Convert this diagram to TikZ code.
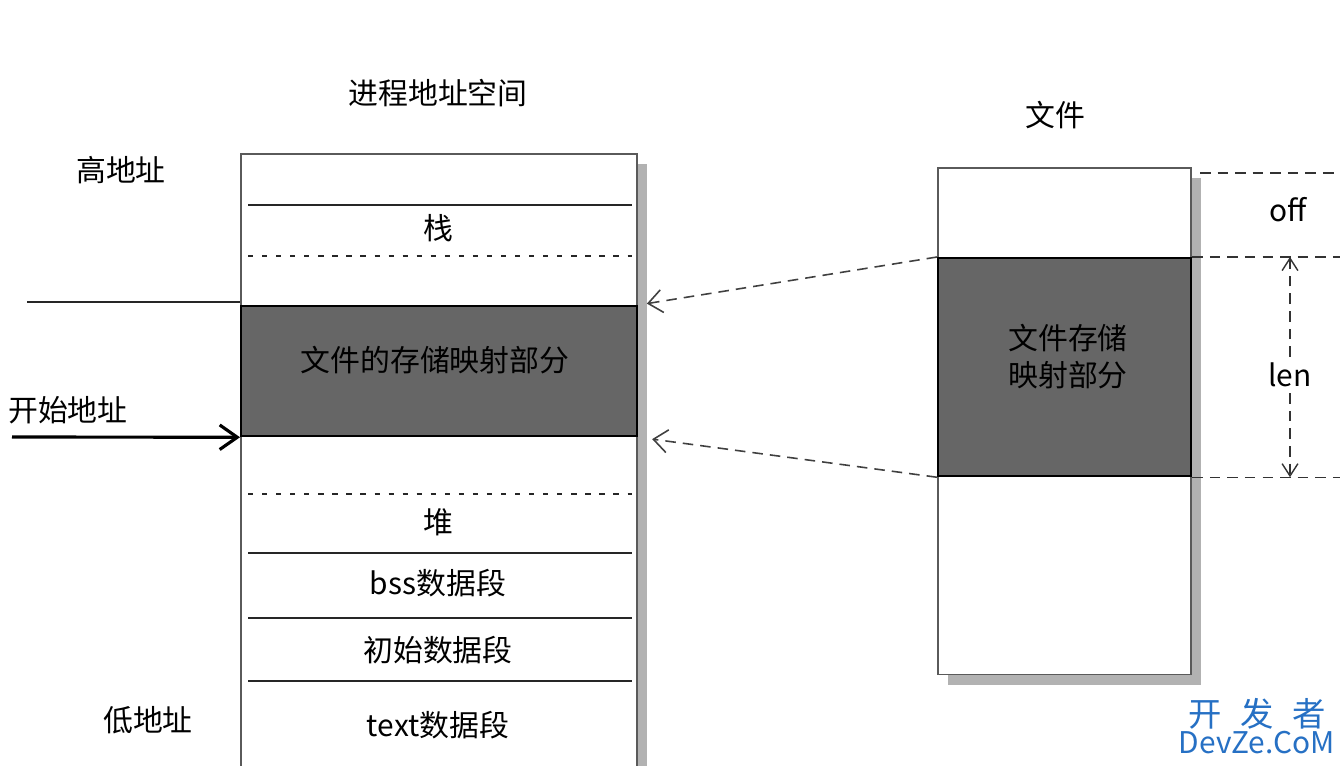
\documentclass[tikz,border=0pt]{standalone}
\usepackage{fontspec}
\setmainfont{Noto Sans CJK SC}
\definecolor{mapgray}{RGB}{102,102,102}
\definecolor{shadowgray}{RGB}{178,178,178}
\definecolor{framegray}{RGB}{90,90,90}
\definecolor{devzeblue}{RGB}{38,112,196}
\usetikzlibrary{arrows.meta,positioning,shadows}

\begin{document}
\begin{tikzpicture}[x=0.02cm,y=-0.02cm,
    font=\fontsize{17}{21}\selectfont,
    membox/.style={rectangle,draw=framegray,line width=0.9pt,fill=white,
      inner sep=0pt,anchor=north west,
      drop shadow={shadow xshift=5.7pt,shadow yshift=-5.7pt,
        fill=shadowgray,opacity=1}},
    mapzone/.style={rectangle,draw=black,line width=1.3pt,fill=mapgray,
      inner sep=0pt,anchor=north west},
    segline/.style={line width=1.1pt,black!85},
    gapline/.style={line width=1.1pt,black!85,dash pattern=on 3pt off 5pt},
    linkarrow/.style={line width=0.9pt,black!75,dash pattern=on 6pt off 4pt,
      -{Straight Barb[length=8pt,width=13pt]}},
    sizeline/.style={line width=0.8pt,black!80,dash pattern=on 6pt off 4pt},
    sizearrow/.style={sizeline,-{Straight Barb[length=7pt,width=9pt]}},
    devze/.style={text=devzeblue,inner sep=0pt}]
  \useasboundingbox (0,0) rectangle (1340,765);
  \clip (0,0) rectangle (1340,765);
  % Process address space
  \node[membox,minimum width=7.92cm,minimum height=13cm] (procBox) at (240,153) {};
  \node (procTitle) at (438,93) {进程地址空间};
  \foreach \y in {205,553,618,681}
    \draw[segline] (248,\y) -- (632,\y);
  \foreach \y in {256,494}
    \draw[gapline] (248,\y) -- (632,\y);
  \node[mapzone,minimum width=7.92cm,minimum height=2.6cm] (mapL) at (240,305) {};
  \node (mapLtext) at (435,360) {文件的存储映射部分};
  \foreach \nm/\y/\txt in {stack/228/栈,heap/522/堆,bss/583/bss数据段,
      data/650/初始数据段,text/725/text数据段}
    \node (\nm) at (438,\y) {\txt};
  % Address labels
  \node (hiaddr) at (121,170) {高地址};
  \node (loaddr) at (148,720) {低地址};
  \node (startlbl) at (68,410) {开始地址};
  \coordinate (hiline) at (27,302);
  \coordinate (startpt) at (12,437);
  \draw[line width=1pt,black!85] (hiline) -- (hiline -| procBox.west);
  \draw[line width=1.8pt,-{Straight Barb[length=10pt,width=14pt]}]
    (startpt) -- (mapL.south west);
  % File
  \node[membox,minimum width=5.06cm,minimum height=10.14cm] (fileBox) at (937,167) {};
  \node (fileTitle) at (1055,115) {文件};
  \node[mapzone,minimum width=5.06cm,minimum height=4.36cm] (mapR) at (937,257) {};
  \node[align=center] (mapRtext) at (1068,357) {文件存储\\映射部分};
  % Mapping arrows
  \draw[linkarrow,shorten >=5pt] (mapR.north west) -- (mapL.north east);
  \draw[linkarrow,shorten >=8pt] (mapR.south west) -- (mapL.south east);
  % off / len
  \coordinate (rimTop) at (1340,173);
  \draw[sizeline] (1200,173) -- (rimTop);
  \draw[sizeline] (mapR.north east) -- (mapR.north east -| rimTop);
  \draw[sizeline] (mapR.south east) -- (mapR.south east -| rimTop);
  \node (offlbl) at (1288,210) {off};
  \node (lenlbl) at (1290,375) {len};
  \draw[sizearrow] (lenlbl.north) -- (lenlbl.north |- mapR.north);
  \draw[sizearrow] (lenlbl.south) -- (lenlbl.south |- mapR.south);
  % Watermark
  \node[devze,font=\fontsize{19}{21}\selectfont] (devzeCn) at (1257,714)
    {开\hspace{0.55em}发\hspace{0.55em}者};
  \node[devze,font=\fontsize{17}{19}\selectfont] (devzeEn) at (1257,743) {DevZe.CoM};
\end{tikzpicture}
\end{document}
